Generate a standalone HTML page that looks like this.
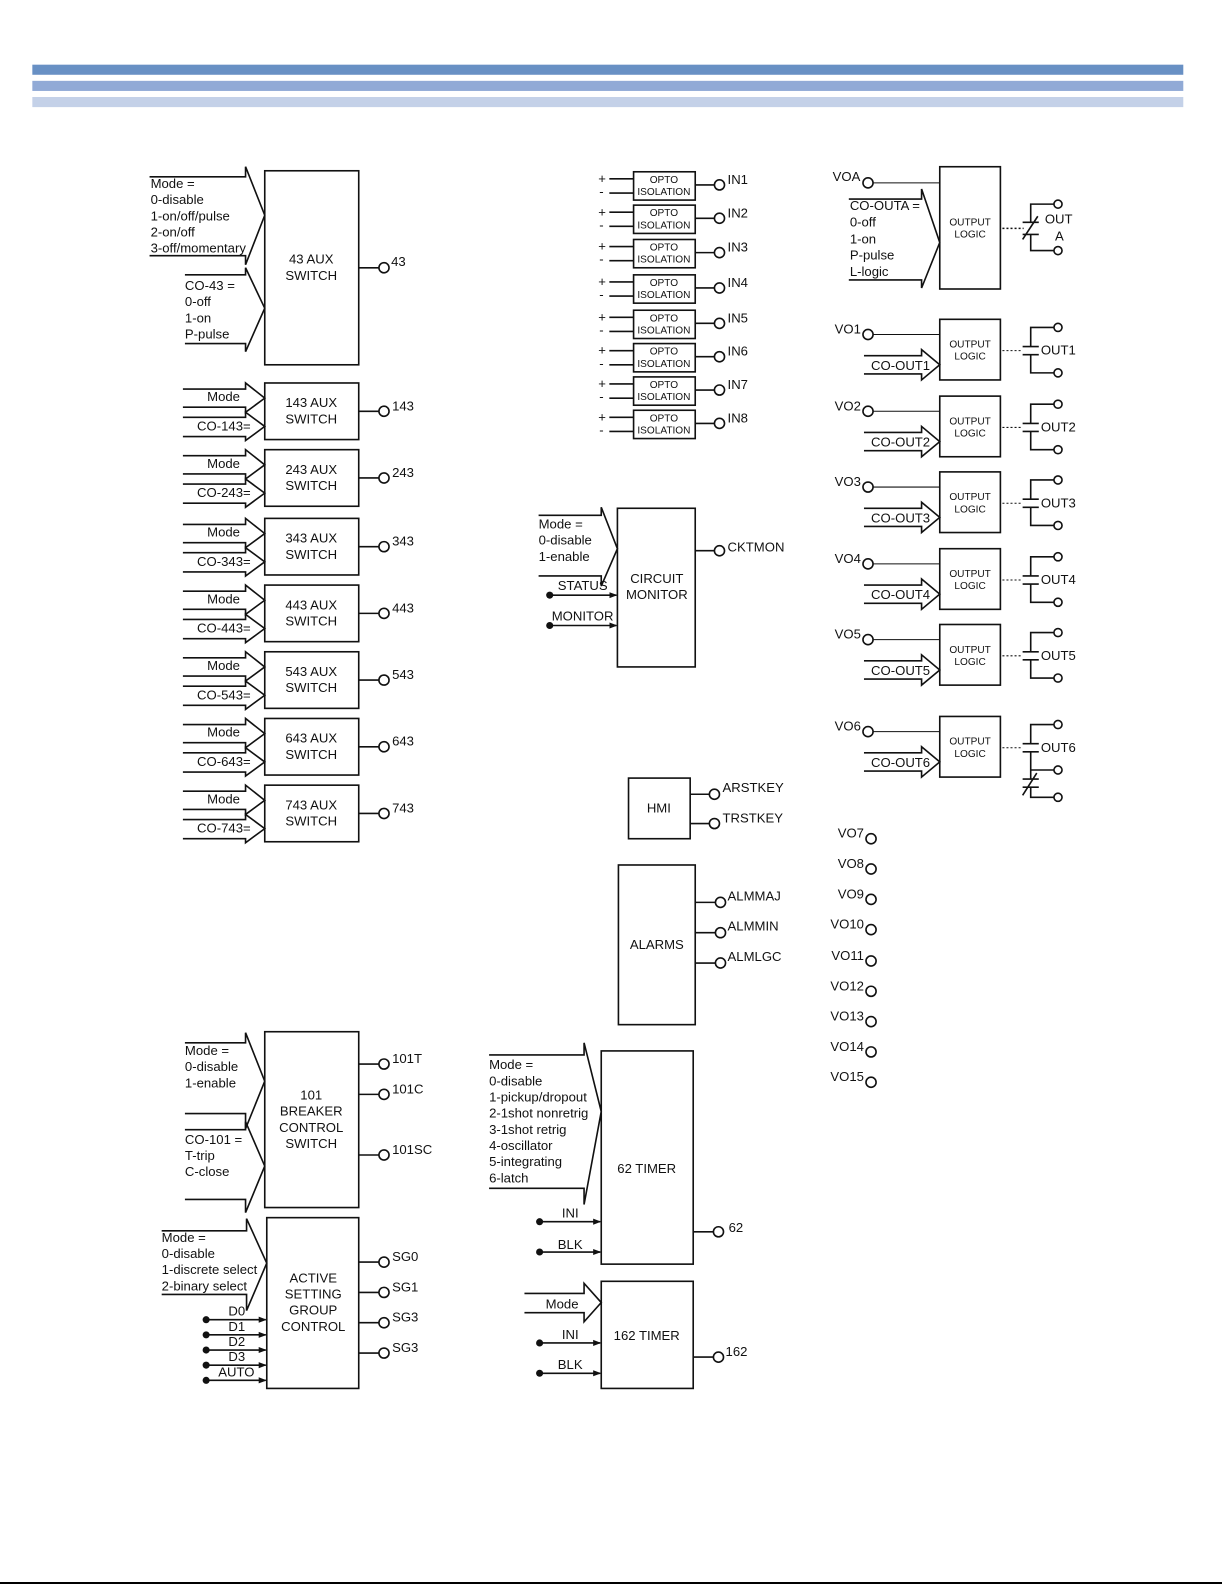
<!DOCTYPE html>
<html><head><meta charset="utf-8"><style>
html,body{margin:0;padding:0;background:#fff;overflow:hidden;width:1225px;height:1585px}
svg{display:block}
text{font-family:"Liberation Sans",sans-serif;font-size:13px;fill:#111}
.s{font-size:10px}
.c{text-anchor:middle}
.r{text-anchor:end}
</style></head><body>
<svg width="1225" height="1585" viewBox="0 0 1225 1585" xmlns="http://www.w3.org/2000/svg">
<defs>
<marker id="ah" markerWidth="8" markerHeight="8" refX="7" refY="4" orient="auto" markerUnits="userSpaceOnUse"><path d="M0,1 L8,4 L0,7 z" fill="#111"/></marker>
</defs>
<line x1="0" y1="1583" x2="1222" y2="1583" stroke="#000" stroke-width="2"/>
<g transform="scale(1.0105)">
<rect x="32" y="64" width="1139" height="10" fill="#6890c4"/>
<rect x="32" y="80" width="1139" height="10" fill="#91aad6"/>
<rect x="32" y="96" width="1139" height="10" fill="#c4d1e8"/>

<g stroke="#111" stroke-width="1.6" fill="none">
<rect x="262" y="169" width="93" height="192"/>
<polyline points="148,175 243,175 243,165 262,213 243,262 243,253 148,253"/>
<polyline points="183,272 243,272 243,265 262,305 243,348 243,340 183,340"/>
<line x1="355" y1="265" x2="375" y2="265"/><circle cx="380" cy="265" r="5"/>
</g>
<text x="149" y="186">Mode =</text><text x="149" y="202">0-disable</text><text x="149" y="218">1-on/off/pulse</text><text x="149" y="234">2-on/off</text><text x="149" y="250">3-off/momentary</text>
<text x="183" y="287">CO-43 =</text><text x="183" y="303">0-off</text><text x="183" y="319">1-on</text><text x="183" y="335">P-pulse</text>
<text x="308" y="261" class="c">43 AUX</text><text x="308" y="277" class="c">SWITCH</text>
<text x="387" y="263">43</text>

<g transform="translate(0,379)">
<g stroke="#111" stroke-width="1.6" fill="none"><rect x="262" y="0" width="93" height="56"/><polyline points="181,6 243,6 243,0 262,15 243,29 243,24 181,24"/><polyline points="181,34 243,34 243,29 262,43 243,57 243,53 181,53"/><line x1="355" y1="28" x2="375" y2="28"/><circle cx="380" cy="28" r="5"/></g>
<text x="205" y="18">Mode</text><text x="195" y="47">CO-143=</text><text x="308" y="24" class="c">143 AUX</text><text x="308" y="40" class="c">SWITCH</text><text x="388" y="27">143</text></g>
<g transform="translate(0,445)">
<g stroke="#111" stroke-width="1.6" fill="none"><rect x="262" y="0" width="93" height="56"/><polyline points="181,6 243,6 243,0 262,15 243,29 243,24 181,24"/><polyline points="181,34 243,34 243,29 262,43 243,57 243,53 181,53"/><line x1="355" y1="28" x2="375" y2="28"/><circle cx="380" cy="28" r="5"/></g>
<text x="205" y="18">Mode</text><text x="195" y="47">CO-243=</text><text x="308" y="24" class="c">243 AUX</text><text x="308" y="40" class="c">SWITCH</text><text x="388" y="27">243</text></g>
<g transform="translate(0,513)">
<g stroke="#111" stroke-width="1.6" fill="none"><rect x="262" y="0" width="93" height="56"/><polyline points="181,6 243,6 243,0 262,15 243,29 243,24 181,24"/><polyline points="181,34 243,34 243,29 262,43 243,57 243,53 181,53"/><line x1="355" y1="28" x2="375" y2="28"/><circle cx="380" cy="28" r="5"/></g>
<text x="205" y="18">Mode</text><text x="195" y="47">CO-343=</text><text x="308" y="24" class="c">343 AUX</text><text x="308" y="40" class="c">SWITCH</text><text x="388" y="27">343</text></g>
<g transform="translate(0,579)">
<g stroke="#111" stroke-width="1.6" fill="none"><rect x="262" y="0" width="93" height="56"/><polyline points="181,6 243,6 243,0 262,15 243,29 243,24 181,24"/><polyline points="181,34 243,34 243,29 262,43 243,57 243,53 181,53"/><line x1="355" y1="28" x2="375" y2="28"/><circle cx="380" cy="28" r="5"/></g>
<text x="205" y="18">Mode</text><text x="195" y="47">CO-443=</text><text x="308" y="24" class="c">443 AUX</text><text x="308" y="40" class="c">SWITCH</text><text x="388" y="27">443</text></g>
<g transform="translate(0,645)">
<g stroke="#111" stroke-width="1.6" fill="none"><rect x="262" y="0" width="93" height="56"/><polyline points="181,6 243,6 243,0 262,15 243,29 243,24 181,24"/><polyline points="181,34 243,34 243,29 262,43 243,57 243,53 181,53"/><line x1="355" y1="28" x2="375" y2="28"/><circle cx="380" cy="28" r="5"/></g>
<text x="205" y="18">Mode</text><text x="195" y="47">CO-543=</text><text x="308" y="24" class="c">543 AUX</text><text x="308" y="40" class="c">SWITCH</text><text x="388" y="27">543</text></g>
<g transform="translate(0,711)">
<g stroke="#111" stroke-width="1.6" fill="none"><rect x="262" y="0" width="93" height="56"/><polyline points="181,6 243,6 243,0 262,15 243,29 243,24 181,24"/><polyline points="181,34 243,34 243,29 262,43 243,57 243,53 181,53"/><line x1="355" y1="28" x2="375" y2="28"/><circle cx="380" cy="28" r="5"/></g>
<text x="205" y="18">Mode</text><text x="195" y="47">CO-643=</text><text x="308" y="24" class="c">643 AUX</text><text x="308" y="40" class="c">SWITCH</text><text x="388" y="27">643</text></g>
<g transform="translate(0,777)">
<g stroke="#111" stroke-width="1.6" fill="none"><rect x="262" y="0" width="93" height="56"/><polyline points="181,6 243,6 243,0 262,15 243,29 243,24 181,24"/><polyline points="181,34 243,34 243,29 262,43 243,57 243,53 181,53"/><line x1="355" y1="28" x2="375" y2="28"/><circle cx="380" cy="28" r="5"/></g>
<text x="205" y="18">Mode</text><text x="195" y="47">CO-743=</text><text x="308" y="24" class="c">743 AUX</text><text x="308" y="40" class="c">SWITCH</text><text x="388" y="27">743</text></g>

<g transform="translate(0,170)"><g stroke="#111" stroke-width="1.6" fill="none"><rect x="627" y="0" width="61" height="28"/><line x1="603" y1="7" x2="627" y2="7"/><line x1="603" y1="21" x2="627" y2="21"/><line x1="688" y1="13" x2="707" y2="13"/><circle cx="712" cy="13" r="5"/></g><text x="592" y="11">+</text><text x="593" y="24">-</text><text x="657" y="11" class="s c">OPTO</text><text x="657" y="23" class="s c">ISOLATION</text><text x="720" y="12">IN1</text></g>
<g transform="translate(0,203)"><g stroke="#111" stroke-width="1.6" fill="none"><rect x="627" y="0" width="61" height="28"/><line x1="603" y1="7" x2="627" y2="7"/><line x1="603" y1="21" x2="627" y2="21"/><line x1="688" y1="13" x2="707" y2="13"/><circle cx="712" cy="13" r="5"/></g><text x="592" y="11">+</text><text x="593" y="24">-</text><text x="657" y="11" class="s c">OPTO</text><text x="657" y="23" class="s c">ISOLATION</text><text x="720" y="12">IN2</text></g>
<g transform="translate(0,237)"><g stroke="#111" stroke-width="1.6" fill="none"><rect x="627" y="0" width="61" height="28"/><line x1="603" y1="7" x2="627" y2="7"/><line x1="603" y1="21" x2="627" y2="21"/><line x1="688" y1="13" x2="707" y2="13"/><circle cx="712" cy="13" r="5"/></g><text x="592" y="11">+</text><text x="593" y="24">-</text><text x="657" y="11" class="s c">OPTO</text><text x="657" y="23" class="s c">ISOLATION</text><text x="720" y="12">IN3</text></g>
<g transform="translate(0,272)"><g stroke="#111" stroke-width="1.6" fill="none"><rect x="627" y="0" width="61" height="28"/><line x1="603" y1="7" x2="627" y2="7"/><line x1="603" y1="21" x2="627" y2="21"/><line x1="688" y1="13" x2="707" y2="13"/><circle cx="712" cy="13" r="5"/></g><text x="592" y="11">+</text><text x="593" y="24">-</text><text x="657" y="11" class="s c">OPTO</text><text x="657" y="23" class="s c">ISOLATION</text><text x="720" y="12">IN4</text></g>
<g transform="translate(0,307)"><g stroke="#111" stroke-width="1.6" fill="none"><rect x="627" y="0" width="61" height="28"/><line x1="603" y1="7" x2="627" y2="7"/><line x1="603" y1="21" x2="627" y2="21"/><line x1="688" y1="13" x2="707" y2="13"/><circle cx="712" cy="13" r="5"/></g><text x="592" y="11">+</text><text x="593" y="24">-</text><text x="657" y="11" class="s c">OPTO</text><text x="657" y="23" class="s c">ISOLATION</text><text x="720" y="12">IN5</text></g>
<g transform="translate(0,340)"><g stroke="#111" stroke-width="1.6" fill="none"><rect x="627" y="0" width="61" height="28"/><line x1="603" y1="7" x2="627" y2="7"/><line x1="603" y1="21" x2="627" y2="21"/><line x1="688" y1="13" x2="707" y2="13"/><circle cx="712" cy="13" r="5"/></g><text x="592" y="11">+</text><text x="593" y="24">-</text><text x="657" y="11" class="s c">OPTO</text><text x="657" y="23" class="s c">ISOLATION</text><text x="720" y="12">IN6</text></g>
<g transform="translate(0,373)"><g stroke="#111" stroke-width="1.6" fill="none"><rect x="627" y="0" width="61" height="28"/><line x1="603" y1="7" x2="627" y2="7"/><line x1="603" y1="21" x2="627" y2="21"/><line x1="688" y1="13" x2="707" y2="13"/><circle cx="712" cy="13" r="5"/></g><text x="592" y="11">+</text><text x="593" y="24">-</text><text x="657" y="11" class="s c">OPTO</text><text x="657" y="23" class="s c">ISOLATION</text><text x="720" y="12">IN7</text></g>
<g transform="translate(0,406)"><g stroke="#111" stroke-width="1.6" fill="none"><rect x="627" y="0" width="61" height="28"/><line x1="603" y1="7" x2="627" y2="7"/><line x1="603" y1="21" x2="627" y2="21"/><line x1="688" y1="13" x2="707" y2="13"/><circle cx="712" cy="13" r="5"/></g><text x="592" y="11">+</text><text x="593" y="24">-</text><text x="657" y="11" class="s c">OPTO</text><text x="657" y="23" class="s c">ISOLATION</text><text x="720" y="12">IN8</text></g>

<g stroke="#111" stroke-width="1.6" fill="none">
<rect x="611" y="503" width="77" height="157"/>
<polyline points="533,510 595,510 595,502 611,543 595,580 595,570 533,570"/>
<line x1="544" y1="589" x2="610" y2="589" marker-end="url(#ah)"/>
<line x1="544" y1="619" x2="610" y2="619" marker-end="url(#ah)"/>
<line x1="688" y1="545" x2="707" y2="545"/><circle cx="712" cy="545" r="5"/>
</g>
<circle cx="544" cy="589" r="3.5" fill="#111"/><circle cx="544" cy="619" r="3.5" fill="#111"/>
<text x="533" y="523">Mode =</text><text x="533" y="539">0-disable</text><text x="533" y="555">1-enable</text>
<text x="552" y="584">STATUS</text><text x="546" y="614">MONITOR</text>
<text x="650" y="577" class="c">CIRCUIT</text><text x="650" y="593" class="c">MONITOR</text>
<text x="720" y="546">CKTMON</text>

<g stroke="#111" stroke-width="1.6" fill="none">
<rect x="622" y="770" width="61" height="60"/>
<line x1="683" y1="786" x2="702" y2="786"/><circle cx="707" cy="786" r="5"/>
<line x1="683" y1="815" x2="702" y2="815"/><circle cx="707" cy="815" r="5"/>
</g>
<text x="652" y="804" class="c">HMI</text>
<text x="715" y="784">ARSTKEY</text><text x="715" y="814">TRSTKEY</text>

<g stroke="#111" stroke-width="1.6" fill="none">
<rect x="612" y="856" width="76" height="158"/>
<line x1="688" y1="893" x2="708" y2="893"/><circle cx="713" cy="893" r="5"/>
<line x1="688" y1="923" x2="708" y2="923"/><circle cx="713" cy="923" r="5"/>
<line x1="688" y1="953" x2="708" y2="953"/><circle cx="713" cy="953" r="5"/>
</g>
<text x="650" y="939" class="c">ALARMS</text>
<text x="720" y="891">ALMMAJ</text><text x="720" y="921">ALMMIN</text><text x="720" y="951">ALMLGC</text>

<g stroke="#111" stroke-width="1.6" fill="none">
<rect x="595" y="1040" width="91" height="211"/>
<polyline points="484,1044 578,1044 578,1032 595,1100 578,1192 578,1176 484,1176"/>
<line x1="534" y1="1209" x2="594" y2="1209" marker-end="url(#ah)"/>
<line x1="534" y1="1239" x2="594" y2="1239" marker-end="url(#ah)"/>
<line x1="686" y1="1219" x2="706" y2="1219"/><circle cx="711" cy="1219" r="5"/>
</g>
<circle cx="534" cy="1209" r="3.5" fill="#111"/><circle cx="534" cy="1239" r="3.5" fill="#111"/>
<text x="484" y="1058">Mode =</text><text x="484" y="1074">0-disable</text><text x="484" y="1090">1-pickup/dropout</text><text x="484" y="1106">2-1shot nonretrig</text><text x="484" y="1122">3-1shot retrig</text><text x="484" y="1138">4-oscillator</text><text x="484" y="1154">5-integrating</text><text x="484" y="1170">6-latch</text>
<text x="556" y="1205">INI</text><text x="552" y="1236">BLK</text>
<text x="640" y="1161" class="c">62 TIMER</text><text x="721" y="1219">62</text>

<g stroke="#111" stroke-width="1.6" fill="none">
<rect x="595" y="1268" width="91" height="106"/>
<polyline points="519,1280 578,1280 578,1270 595,1289 578,1308 578,1299 519,1299"/>
<line x1="534" y1="1329" x2="594" y2="1329" marker-end="url(#ah)"/>
<line x1="534" y1="1359" x2="594" y2="1359" marker-end="url(#ah)"/>
<line x1="686" y1="1343" x2="706" y2="1343"/><circle cx="711" cy="1343" r="5"/>
</g>
<circle cx="534" cy="1329" r="3.5" fill="#111"/><circle cx="534" cy="1359" r="3.5" fill="#111"/>
<text x="540" y="1295">Mode</text><text x="556" y="1325">INI</text><text x="552" y="1355">BLK</text>
<text x="640" y="1326" class="c">162 TIMER</text><text x="718" y="1342">162</text>

<g stroke="#111" stroke-width="1.6" fill="none">
<rect x="262" y="1021" width="93" height="174"/>
<polyline points="183,1032 243,1032 243,1022 262,1070 243,1117 243,1102 183,1102"/>
<polyline points="183,1118 243,1118 243,1110 262,1154 243,1200 243,1187 183,1187"/>
<line x1="355" y1="1053" x2="375" y2="1053"/><circle cx="380" cy="1053" r="5"/>
<line x1="355" y1="1083" x2="375" y2="1083"/><circle cx="380" cy="1083" r="5"/>
<line x1="355" y1="1143" x2="375" y2="1143"/><circle cx="380" cy="1143" r="5"/>
</g>
<text x="183" y="1044">Mode =</text><text x="183" y="1060">0-disable</text><text x="183" y="1076">1-enable</text>
<text x="183" y="1132">CO-101 =</text><text x="183" y="1148">T-trip</text><text x="183" y="1164">C-close</text>
<text x="308" y="1088" class="c">101</text><text x="308" y="1104" class="c">BREAKER</text><text x="308" y="1120" class="c">CONTROL</text><text x="308" y="1136" class="c">SWITCH</text>
<text x="388" y="1052">101T</text><text x="388" y="1082">101C</text><text x="388" y="1142">101SC</text>

<g stroke="#111" stroke-width="1.6" fill="none">
<rect x="264" y="1205" width="91" height="169"/>
<polyline points="160,1218 244,1218 244,1206 264,1250 244,1297 244,1281 160,1281"/>
<line x1="204" y1="1306" x2="263" y2="1306" marker-end="url(#ah)"/>
<line x1="204" y1="1321" x2="263" y2="1321" marker-end="url(#ah)"/>
<line x1="204" y1="1336" x2="263" y2="1336" marker-end="url(#ah)"/>
<line x1="204" y1="1351" x2="263" y2="1351" marker-end="url(#ah)"/>
<line x1="204" y1="1366" x2="263" y2="1366" marker-end="url(#ah)"/>
<line x1="355" y1="1249" x2="375" y2="1249"/><circle cx="380" cy="1249" r="5"/>
<line x1="355" y1="1279" x2="375" y2="1279"/><circle cx="380" cy="1279" r="5"/>
<line x1="355" y1="1309" x2="375" y2="1309"/><circle cx="380" cy="1309" r="5"/>
<line x1="355" y1="1339" x2="375" y2="1339"/><circle cx="380" cy="1339" r="5"/>
</g>
<g fill="#111"><circle cx="204" cy="1306" r="3.5"/><circle cx="204" cy="1321" r="3.5"/><circle cx="204" cy="1336" r="3.5"/><circle cx="204" cy="1351" r="3.5"/><circle cx="204" cy="1366" r="3.5"/></g>
<text x="160" y="1229">Mode =</text><text x="160" y="1245">0-disable</text><text x="160" y="1261">1-discrete select</text><text x="160" y="1277">2-binary select</text>
<text x="226" y="1302">D0</text><text x="226" y="1317">D1</text><text x="226" y="1332">D2</text><text x="226" y="1347">D3</text><text x="216" y="1362">AUTO</text>
<text x="310" y="1269" class="c">ACTIVE</text><text x="310" y="1285" class="c">SETTING</text><text x="310" y="1301" class="c">GROUP</text><text x="310" y="1317" class="c">CONTROL</text>
<text x="388" y="1248">SG0</text><text x="388" y="1278">SG1</text><text x="388" y="1308">SG3</text><text x="388" y="1338">SG3</text>

<g stroke="#111" stroke-width="1.6" fill="none">
<rect x="930" y="165" width="60" height="121"/>
<line x1="864" y1="181" x2="930" y2="181" stroke-width="1"/><circle cx="859" cy="181" r="5"/>
<polyline points="840,197 912,197 912,187 930,240 912,285 912,277 840,277"/>
<line x1="992" y1="226" x2="1013" y2="226" stroke-dasharray="2,2"/>
<polyline points="1043,202 1020,202 1020,220"/>
<polyline points="1043,248 1020,248 1020,232"/>
<line x1="1012" y1="220" x2="1028" y2="220"/><line x1="1012" y1="232" x2="1028" y2="232"/>
<line x1="1012" y1="237" x2="1027" y2="214"/>
<circle cx="1047" cy="202" r="4"/><circle cx="1047" cy="248" r="4"/>
</g>
<text x="824" y="179">VOA</text>
<text x="841" y="208">CO-OUTA =</text><text x="841" y="224">0-off</text><text x="841" y="241">1-on</text><text x="841" y="257">P-pulse</text><text x="841" y="273">L-logic</text>
<text x="960" y="223" class="s c">OUTPUT</text><text x="960" y="235" class="s c">LOGIC</text>
<text x="1034" y="221">OUT</text><text x="1044" y="238">A</text>

<g transform="translate(0,316)"><g stroke="#111" stroke-width="1.6" fill="none"><rect x="930" y="0" width="60" height="60"/><line x1="864" y1="15" x2="930" y2="15" stroke-width="1"/><circle cx="859" cy="15" r="5"/><polyline points="855,36 912,36 912,30 930,45 912,60 912,54 855,54"/><line x1="992" y1="31" x2="1012" y2="31" stroke-width="1" stroke-dasharray="2,2"/><polyline points="1043,8 1020,8 1020,27"/><polyline points="1043,53 1020,53 1020,35"/><line x1="1012" y1="27" x2="1028" y2="27"/><line x1="1012" y1="35" x2="1028" y2="35"/><circle cx="1047" cy="8" r="4"/><circle cx="1047" cy="53" r="4"/></g><text x="826" y="14">VO1</text><text x="862" y="50">CO-OUT1</text><text x="960" y="28" class="s c">OUTPUT</text><text x="960" y="40" class="s c">LOGIC</text><text x="1030" y="35">OUT1</text></g>
<g transform="translate(0,392)"><g stroke="#111" stroke-width="1.6" fill="none"><rect x="930" y="0" width="60" height="60"/><line x1="864" y1="15" x2="930" y2="15" stroke-width="1"/><circle cx="859" cy="15" r="5"/><polyline points="855,36 912,36 912,30 930,45 912,60 912,54 855,54"/><line x1="992" y1="31" x2="1012" y2="31" stroke-width="1" stroke-dasharray="2,2"/><polyline points="1043,8 1020,8 1020,27"/><polyline points="1043,53 1020,53 1020,35"/><line x1="1012" y1="27" x2="1028" y2="27"/><line x1="1012" y1="35" x2="1028" y2="35"/><circle cx="1047" cy="8" r="4"/><circle cx="1047" cy="53" r="4"/></g><text x="826" y="14">VO2</text><text x="862" y="50">CO-OUT2</text><text x="960" y="28" class="s c">OUTPUT</text><text x="960" y="40" class="s c">LOGIC</text><text x="1030" y="35">OUT2</text></g>
<g transform="translate(0,467)"><g stroke="#111" stroke-width="1.6" fill="none"><rect x="930" y="0" width="60" height="60"/><line x1="864" y1="15" x2="930" y2="15" stroke-width="1"/><circle cx="859" cy="15" r="5"/><polyline points="855,36 912,36 912,30 930,45 912,60 912,54 855,54"/><line x1="992" y1="31" x2="1012" y2="31" stroke-width="1" stroke-dasharray="2,2"/><polyline points="1043,8 1020,8 1020,27"/><polyline points="1043,53 1020,53 1020,35"/><line x1="1012" y1="27" x2="1028" y2="27"/><line x1="1012" y1="35" x2="1028" y2="35"/><circle cx="1047" cy="8" r="4"/><circle cx="1047" cy="53" r="4"/></g><text x="826" y="14">VO3</text><text x="862" y="50">CO-OUT3</text><text x="960" y="28" class="s c">OUTPUT</text><text x="960" y="40" class="s c">LOGIC</text><text x="1030" y="35">OUT3</text></g>
<g transform="translate(0,543)"><g stroke="#111" stroke-width="1.6" fill="none"><rect x="930" y="0" width="60" height="60"/><line x1="864" y1="15" x2="930" y2="15" stroke-width="1"/><circle cx="859" cy="15" r="5"/><polyline points="855,36 912,36 912,30 930,45 912,60 912,54 855,54"/><line x1="992" y1="31" x2="1012" y2="31" stroke-width="1" stroke-dasharray="2,2"/><polyline points="1043,8 1020,8 1020,27"/><polyline points="1043,53 1020,53 1020,35"/><line x1="1012" y1="27" x2="1028" y2="27"/><line x1="1012" y1="35" x2="1028" y2="35"/><circle cx="1047" cy="8" r="4"/><circle cx="1047" cy="53" r="4"/></g><text x="826" y="14">VO4</text><text x="862" y="50">CO-OUT4</text><text x="960" y="28" class="s c">OUTPUT</text><text x="960" y="40" class="s c">LOGIC</text><text x="1030" y="35">OUT4</text></g>
<g transform="translate(0,618)"><g stroke="#111" stroke-width="1.6" fill="none"><rect x="930" y="0" width="60" height="60"/><line x1="864" y1="15" x2="930" y2="15" stroke-width="1"/><circle cx="859" cy="15" r="5"/><polyline points="855,36 912,36 912,30 930,45 912,60 912,54 855,54"/><line x1="992" y1="31" x2="1012" y2="31" stroke-width="1" stroke-dasharray="2,2"/><polyline points="1043,8 1020,8 1020,27"/><polyline points="1043,53 1020,53 1020,35"/><line x1="1012" y1="27" x2="1028" y2="27"/><line x1="1012" y1="35" x2="1028" y2="35"/><circle cx="1047" cy="8" r="4"/><circle cx="1047" cy="53" r="4"/></g><text x="826" y="14">VO5</text><text x="862" y="50">CO-OUT5</text><text x="960" y="28" class="s c">OUTPUT</text><text x="960" y="40" class="s c">LOGIC</text><text x="1030" y="35">OUT5</text></g>
<g transform="translate(0,709)"><g stroke="#111" stroke-width="1.6" fill="none"><rect x="930" y="0" width="60" height="60"/><line x1="864" y1="15" x2="930" y2="15" stroke-width="1"/><circle cx="859" cy="15" r="5"/><polyline points="855,36 912,36 912,30 930,45 912,60 912,54 855,54"/><line x1="992" y1="31" x2="1012" y2="31" stroke-width="1" stroke-dasharray="2,2"/><polyline points="1043,8 1020,8 1020,27"/><polyline points="1020,35 1020,62"/><polyline points="1043,53 1020,53"/><line x1="1012" y1="27" x2="1028" y2="27"/><line x1="1012" y1="35" x2="1028" y2="35"/><line x1="1012" y1="62" x2="1028" y2="62"/><line x1="1012" y1="70" x2="1028" y2="70"/><line x1="1012" y1="78" x2="1026" y2="56"/><polyline points="1020,70 1020,80 1043,80"/><circle cx="1047" cy="8" r="4"/><circle cx="1047" cy="53" r="4"/><circle cx="1047" cy="80" r="4"/></g><text x="826" y="14">VO6</text><text x="862" y="50">CO-OUT6</text><text x="960" y="28" class="s c">OUTPUT</text><text x="960" y="40" class="s c">LOGIC</text><text x="1030" y="35">OUT6</text></g>

<g stroke="#111" stroke-width="1.6" fill="none">
<circle cx="862" cy="830" r="5"/><circle cx="862" cy="860" r="5"/><circle cx="862" cy="890" r="5"/><circle cx="862" cy="920" r="5"/><circle cx="862" cy="951" r="5"/><circle cx="862" cy="981" r="5"/><circle cx="862" cy="1011" r="5"/><circle cx="862" cy="1041" r="5"/><circle cx="862" cy="1071" r="5"/>
</g>
<text x="855" y="829" class="r">VO7</text><text x="855" y="859" class="r">VO8</text><text x="855" y="889" class="r">VO9</text><text x="855" y="919" class="r">VO10</text><text x="855" y="950" class="r">VO11</text><text x="855" y="980" class="r">VO12</text><text x="855" y="1010" class="r">VO13</text><text x="855" y="1040" class="r">VO14</text><text x="855" y="1070" class="r">VO15</text>
</g>
</svg>
</body></html>
